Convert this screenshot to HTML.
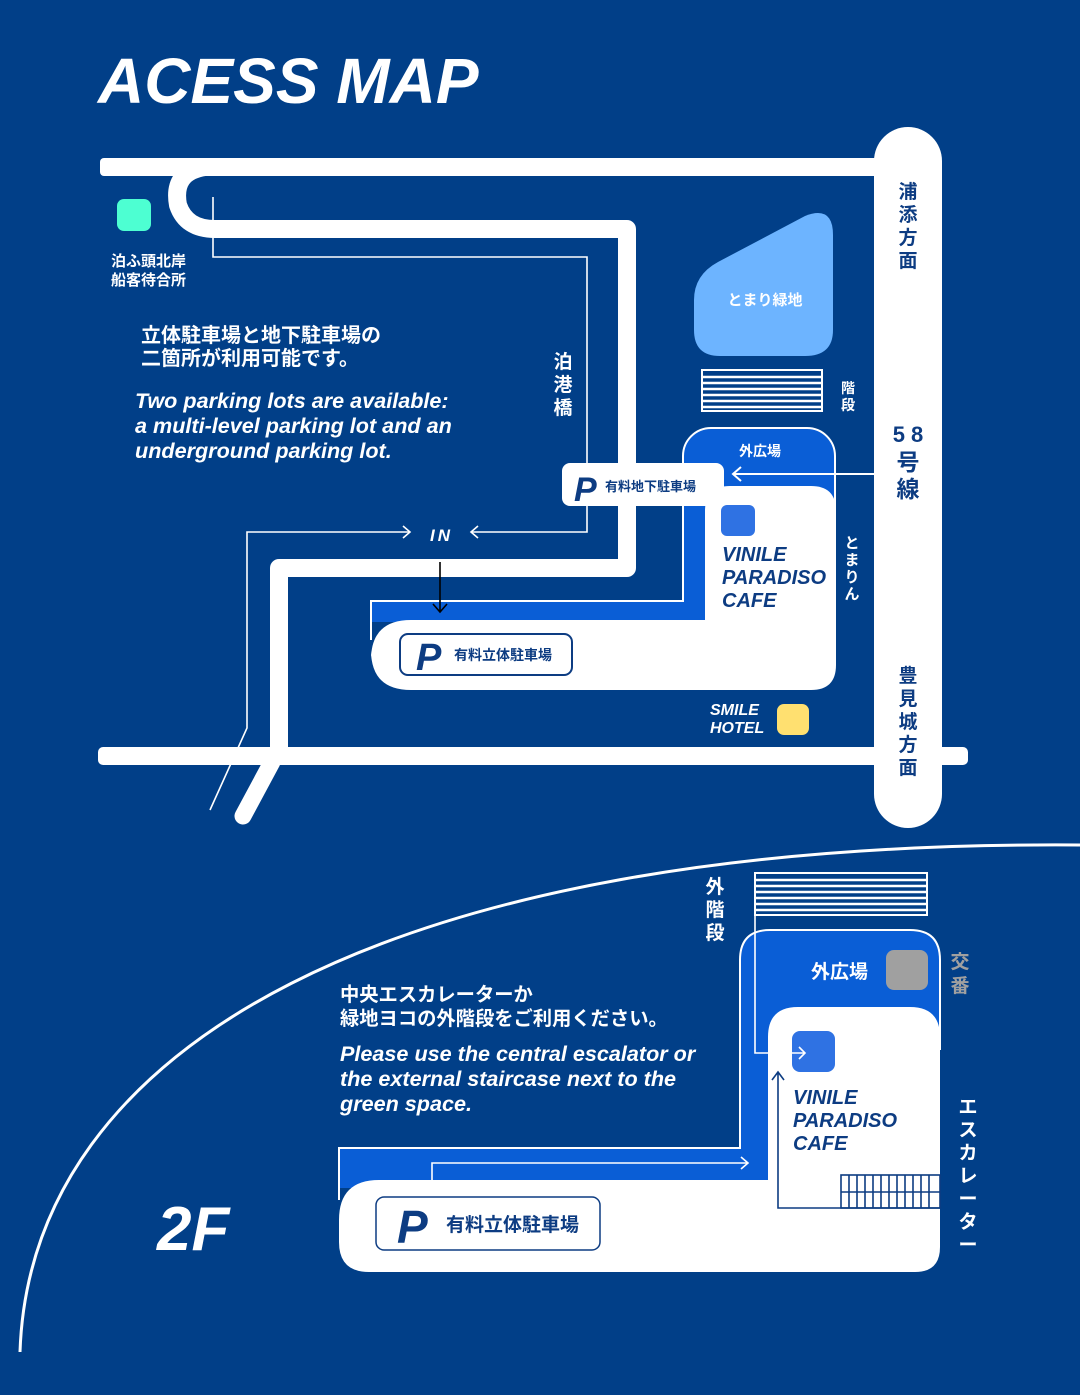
<!DOCTYPE html>
<html><head><meta charset="utf-8"><style>
html,body{margin:0;padding:0;background:#013f88;}
svg{display:block}
text{font-family:"Liberation Sans","Noto Sans CJK JP",sans-serif;}
.jp{font-family:"Liberation Sans","Noto Sans CJK JP",sans-serif;font-weight:bold}
.it{font-style:italic;font-weight:bold}
</style></head><body>
<svg width="1080" height="1395" viewBox="0 0 1080 1395" xmlns="http://www.w3.org/2000/svg">
<rect width="1080" height="1395" fill="#013f88"/>
<text x="98" y="103" class="it" font-size="64" fill="#fff">ACESS MAP</text>

<!-- roads -->
<rect x="100" y="158" width="800" height="18" rx="4" fill="#fff"/>
<rect x="98" y="747" width="870" height="18" rx="5" fill="#fff"/>
<path d="M205 167 Q172 172 178 205 Q186 229 215 229 L627 229 L627 568 L279 568 L279 752" fill="none" stroke="#fff" stroke-width="18" stroke-linejoin="round"/>
<path d="M272 762 L243 816" stroke="#fff" stroke-width="17" stroke-linecap="round"/>
<rect x="874" y="127" width="68" height="701" rx="34" fill="#fff"/>

<!-- thin lines -->
<g fill="none" stroke="#fff" stroke-width="1.6">
<path d="M213 197 L213 257 L587 257 L587 532 L471 532"/>
<path d="M478 526 L471 532 L478 538"/>
<path d="M210 810 L247 728 L247 532 L410 532"/>
<path d="M403 526 L410 532 L403 538"/>
</g>
<text x="430" y="541" class="it" font-size="17" fill="#fff" letter-spacing="3">IN</text>

<rect x="117" y="199" width="34" height="32" rx="7" fill="#4dffd2"/>
<text x="111" y="266" class="jp" font-size="15" fill="#fff">泊ふ頭北岸</text>
<text x="111" y="285" class="jp" font-size="15" fill="#fff">船客待合所</text>

<text x="141" y="342" class="jp" font-size="20" fill="#fff">立体駐車場と地下駐車場の</text>
<text x="141" y="365" class="jp" font-size="20" fill="#fff">二箇所が利用可能です。</text>
<text x="135" y="408" class="it" font-size="21.6" fill="#fff">Two parking lots are available:</text>
<text x="135" y="433" class="it" font-size="21.6" fill="#fff">a multi-level parking lot and an</text>
<text x="135" y="458" class="it" font-size="21.6" fill="#fff">underground parking lot.</text>

<g class="jp" font-size="19" fill="#fff" text-anchor="middle">
<text x="563" y="368">泊</text><text x="563" y="391">港</text><text x="563" y="414">橋</text>
</g>

<!-- green space -->
<path d="M718 262 L805 216 Q833 205 833 235 L833 330 Q833 356 805 356 L720 356 Q694 356 694 330 L694 300 Q694 275 718 262 Z" fill="#6db4ff"/>
<text x="765" y="305" class="jp" font-size="15" fill="#fff" text-anchor="middle">とまり緑地</text>

<!-- stairs top -->
<rect x="702" y="370" width="120" height="41" fill="#013f88" stroke="#fff" stroke-width="2"/>
<g stroke="#fff" stroke-width="2.5"><line x1="702" y1="377" x2="822" y2="377"/><line x1="702" y1="383" x2="822" y2="383"/><line x1="702" y1="389" x2="822" y2="389"/><line x1="702" y1="395" x2="822" y2="395"/><line x1="702" y1="401" x2="822" y2="401"/><line x1="702" y1="407" x2="822" y2="407"/></g>
<text x="848" y="393" class="jp" font-size="14" fill="#fff" text-anchor="middle">階</text>
<text x="848" y="410" class="jp" font-size="14" fill="#fff" text-anchor="middle">段</text>

<!-- top building -->
<rect x="683" y="428" width="152" height="120" rx="28" fill="#0a5ed6" stroke="#fff" stroke-width="2"/>
<rect x="683" y="480" width="22" height="140" fill="#0a5ed6"/>
<line x1="683" y1="470" x2="683" y2="601" stroke="#fff" stroke-width="2"/>
<rect x="371" y="600" width="334" height="22" fill="#0a5ed6"/>
<line x1="371" y1="601" x2="684" y2="601" stroke="#fff" stroke-width="2"/>
<line x1="371" y1="600" x2="371" y2="640" stroke="#fff" stroke-width="2"/>
<path d="M730 486 L811 486 Q836 486 836 511 L836 665 Q836 690 811 690 L411 690 Q371 690 371 650 L371 660 Q371 620 411 620 L705 620 L705 511 Q705 486 730 486 Z" fill="#fff"/>
<text x="760" y="456" class="jp" font-size="14" fill="#fff" text-anchor="middle">外広場</text>
<path d="M874 474 L733 474 M741 467 L733 474 L741 481" fill="none" stroke="#fff" stroke-width="2"/>
<path d="M440 562 L440 612 M433 604 L440 612 L447 604" fill="none" stroke="#000" stroke-width="1.6"/>

<rect x="562" y="463" width="162" height="43" rx="8" fill="#fff"/>
<text x="574" y="501" class="it" font-size="34" fill="#0d3c82">P</text>
<text x="605" y="491" class="jp" font-size="13" fill="#0d3c82">有料地下駐車場</text>

<rect x="721" y="505" width="34" height="31" rx="6" fill="#2f72e3"/>
<text x="722" y="561" class="it" font-size="20" fill="#0d3c82">VINILE</text>
<text x="722" y="584" class="it" font-size="20" fill="#0d3c82">PARADISO</text>
<text x="722" y="607" class="it" font-size="20" fill="#0d3c82">CAFE</text>

<g class="jp" font-size="15" fill="#fff" text-anchor="middle">
<text x="852" y="548">と</text><text x="852" y="565">ま</text><text x="852" y="582">り</text><text x="852" y="599">ん</text>
</g>

<rect x="400" y="634" width="172" height="41" rx="8" fill="#fff" stroke="#0d3c82" stroke-width="2"/>
<text x="416" y="670" class="it" font-size="38" fill="#0d3c82">P</text>
<text x="454" y="660" class="jp" font-size="14" fill="#0d3c82">有料立体駐車場</text>

<rect x="777" y="704" width="32" height="31" rx="7" fill="#ffe070"/>
<text x="710" y="715" class="it" font-size="16" fill="#fff">SMILE</text>
<text x="710" y="733" class="it" font-size="16" fill="#fff">HOTEL</text>

<g class="jp" font-size="19" fill="#0d3c82" text-anchor="middle">
<text x="908" y="198">浦</text><text x="908" y="221">添</text><text x="908" y="244">方</text><text x="908" y="267">面</text>
<text x="908" y="442" font-size="22">5 8</text><text x="908" y="470" font-size="23">号</text><text x="908" y="497" font-size="23">線</text>
<text x="908" y="682">豊</text><text x="908" y="705">見</text><text x="908" y="728">城</text><text x="908" y="751">方</text><text x="908" y="774">面</text>
</g>

<!-- floor curve -->
<path d="M20 1352 C30 1050 380 840 1080 845" fill="none" stroke="#fff" stroke-width="3"/>

<!-- 2F building -->
<path d="M740 1180 L740 960 Q740 930 770 930 L910 930 Q940 930 940 960 L940 1050" fill="#0a5ed6" stroke="#fff" stroke-width="2"/>
<rect x="741" y="1000" width="40" height="180" fill="#0a5ed6"/>
<rect x="339" y="1148" width="429" height="40" fill="#0a5ed6"/>
<line x1="339" y1="1148" x2="741" y2="1148" stroke="#fff" stroke-width="2"/>
<line x1="740" y1="1000" x2="740" y2="1149" stroke="#fff" stroke-width="2"/>
<line x1="339" y1="1147" x2="339" y2="1200" stroke="#fff" stroke-width="2"/>
<path d="M798 1007 L910 1007 Q940 1007 940 1037 L940 1247 Q940 1272 915 1272 L369 1272 Q339 1272 339 1242 L339 1220 Q339 1180 379 1180 L768 1180 L768 1037 Q768 1007 798 1007 Z" fill="#fff"/>

<rect x="755" y="873" width="172" height="42" fill="#013f88" stroke="#fff" stroke-width="2"/>
<g stroke="#fff" stroke-width="2.5"><line x1="755" y1="880" x2="927" y2="880"/><line x1="755" y1="886" x2="927" y2="886"/><line x1="755" y1="892" x2="927" y2="892"/><line x1="755" y1="898" x2="927" y2="898"/><line x1="755" y1="904" x2="927" y2="904"/><line x1="755" y1="910" x2="927" y2="910"/></g>
<g class="jp" font-size="19" fill="#fff" text-anchor="middle">
<text x="715" y="893">外</text><text x="715" y="916">階</text><text x="715" y="939">段</text>
</g>
<text x="811" y="978" class="jp" font-size="19" fill="#fff">外広場</text>
<rect x="886" y="950" width="42" height="40" rx="8" fill="#a0a0a0"/>
<text x="960" y="968" class="jp" font-size="19" fill="#a0a0a0" text-anchor="middle">交</text>
<text x="960" y="992" class="jp" font-size="19" fill="#a0a0a0" text-anchor="middle">番</text>

<rect x="792" y="1031" width="43" height="41" rx="8" fill="#2f72e3"/>
<g fill="none" stroke="#fff" stroke-width="1.6">
<path d="M755 915 L755 1053 L805 1053 M799 1047 L805 1053 L799 1059"/>
<path d="M432 1180 L432 1163 L748 1163 M741 1157 L748 1163 L741 1169"/>
</g>
<g fill="none" stroke="#0d3c82" stroke-width="1.6">
<path d="M778 1073 L778 1208 L940 1208 M772 1080 L778 1072 L784 1080"/>
<rect x="841" y="1175" width="99" height="33"/>
<line x1="841" y1="1192" x2="940" y2="1192"/>
<path d="M849 1175V1208M857 1175V1208M865 1175V1208M873 1175V1208M881 1175V1208M889 1175V1208M897 1175V1208M905 1175V1208M913 1175V1208M921 1175V1208M929 1175V1208"/>
</g>
<text x="793" y="1104" class="it" font-size="20" fill="#0d3c82">VINILE</text>
<text x="793" y="1127" class="it" font-size="20" fill="#0d3c82">PARADISO</text>
<text x="793" y="1150" class="it" font-size="20" fill="#0d3c82">CAFE</text>

<g class="jp" font-size="19" fill="#fff" text-anchor="middle">
<text x="968" y="1113">エ</text><text x="968" y="1136">ス</text><text x="968" y="1159">カ</text><text x="968" y="1182">レ</text><text x="968" y="1205">ー</text><text x="968" y="1228">タ</text><text x="968" y="1251">ー</text>
</g>

<text x="340" y="1001" class="jp" font-size="19.3" fill="#fff">中央エスカレーターか</text>
<text x="340" y="1025" class="jp" font-size="19.3" fill="#fff">緑地ヨコの外階段をご利用ください。</text>
<text x="340" y="1061" class="it" font-size="21.6" fill="#fff">Please use the central escalator or</text>
<text x="340" y="1086" class="it" font-size="21.6" fill="#fff">the external staircase next to the</text>
<text x="340" y="1111" class="it" font-size="21.6" fill="#fff">green space.</text>

<rect x="376" y="1197" width="224" height="53" rx="8" fill="#fff" stroke="#0d3c82" stroke-width="1.5"/>
<text x="397" y="1243" class="it" font-size="46" fill="#0d3c82">P</text>
<text x="446" y="1231" class="jp" font-size="19" fill="#0d3c82">有料立体駐車場</text>

<text x="157" y="1250" class="it" font-size="62" fill="#fff">2F</text>
</svg>
</body></html>
